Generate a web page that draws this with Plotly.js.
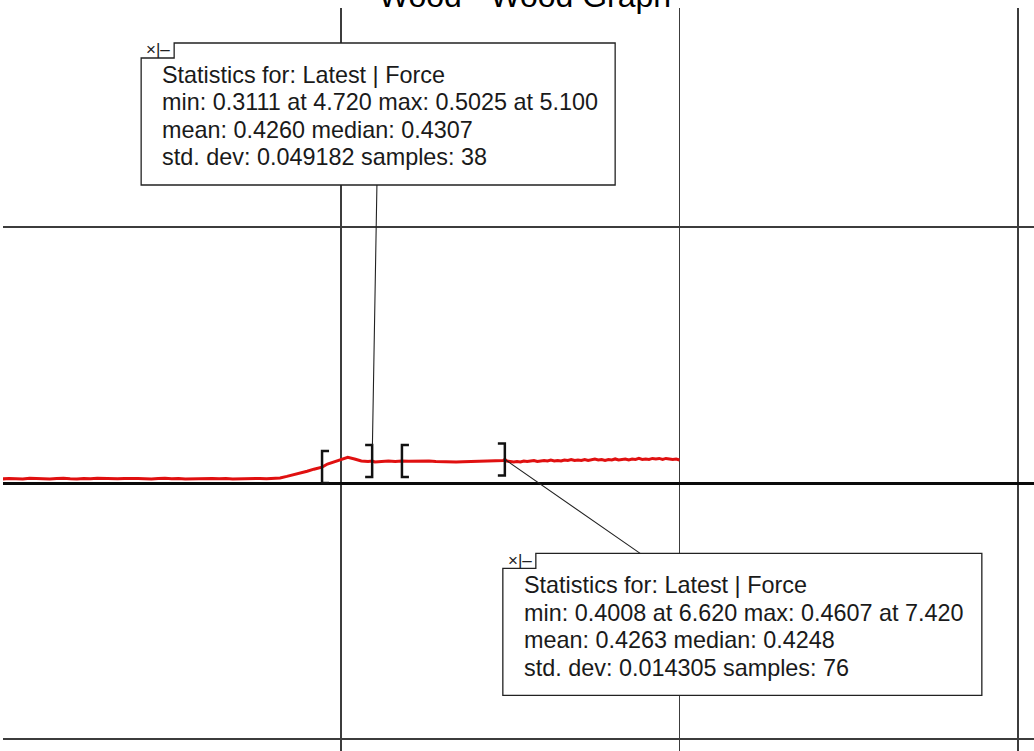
<!DOCTYPE html>
<html>
<head>
<meta charset="utf-8">
<script src="https://cdn.plot.ly/plotly-3.0.1.min.js"></script>
<style>
  html, body { margin: 0; padding: 0; background: #ffffff; }
  #chart { width: 1034px; height: 751px; }
</style>
</head>
<body>
<div id="chart"></div>
<script>
// Force trace, seconds vs. force
const time = [
  0.0, 0.1, 0.2, 0.3, 0.4, 0.5, 0.6, 0.7, 0.8, 0.9,
  1.0, 1.1, 1.2, 1.3, 1.4, 1.5, 1.6, 1.7, 1.8, 1.9,
  2.0, 2.1, 2.2, 2.3, 2.4, 2.5, 2.6, 2.7, 2.8, 2.9,
  3.0, 3.1, 3.2, 3.3, 3.4, 3.5, 3.6, 3.7, 3.8, 3.9,
  4.0, 4.1, 4.2, 4.3, 4.4, 4.5, 4.6, 4.7, 4.72, 4.8,
  4.9, 5.0, 5.1, 5.2, 5.3, 5.4, 5.46, 5.5, 5.6, 5.7,
  5.8, 5.9, 6.0, 6.1, 6.2, 6.3, 6.4, 6.5, 6.6, 6.62,
  6.7, 6.8, 6.9, 7.0, 7.1, 7.2, 7.3, 7.4, 7.42,
  7.45, 7.5, 7.55, 7.6, 7.65, 7.7, 7.75, 7.8, 7.85, 7.9,
  7.95, 8.0, 8.05, 8.1, 8.15, 8.2, 8.25, 8.3, 8.35, 8.4,
  8.45, 8.5, 8.55, 8.6, 8.65, 8.7, 8.75, 8.8, 8.85, 8.9,
  8.95, 9.0, 9.05, 9.1, 9.15, 9.2, 9.25, 9.3, 9.35, 9.4,
  9.45, 9.5, 9.55, 9.6, 9.65, 9.7, 9.75, 9.8, 9.85, 9.9,
  9.95, 10.0
];

const force = [
  0.08, 0.09, 0.085, 0.08, 0.095, 0.09, 0.085, 0.08, 0.09, 0.095,
  0.085, 0.08, 0.09, 0.085, 0.095, 0.09, 0.08, 0.085, 0.09, 0.095,
  0.09, 0.085, 0.08, 0.09, 0.095, 0.085, 0.09, 0.08, 0.085, 0.09,
  0.095, 0.09, 0.085, 0.09, 0.08, 0.085, 0.09, 0.095, 0.09, 0.085,
  0.09, 0.10, 0.13, 0.16, 0.20, 0.23, 0.27, 0.305, 0.3111, 0.37,
  0.41, 0.46, 0.5025, 0.47, 0.43, 0.42, 0.43, 0.41, 0.42, 0.43,
  0.42, 0.43, 0.425, 0.43, 0.435, 0.43, 0.42, 0.415, 0.41, 0.4008,
  0.41, 0.415, 0.42, 0.42, 0.425, 0.43, 0.435, 0.44, 0.4607,
  0.43, 0.42, 0.41, 0.42, 0.41, 0.43, 0.42, 0.43, 0.44, 0.42,
  0.43, 0.44, 0.43, 0.45, 0.43, 0.44, 0.43, 0.45, 0.44, 0.46,
  0.44, 0.45, 0.44, 0.46, 0.44, 0.45, 0.47, 0.45, 0.46, 0.44,
  0.46, 0.45, 0.47, 0.45, 0.46, 0.47, 0.45, 0.47, 0.46, 0.48,
  0.46, 0.47, 0.46, 0.48, 0.47, 0.48, 0.46, 0.48, 0.47, 0.46,
  0.47, 0.45
];

// Selected statistics windows (start / end time)
const regionStart = [4.72, 5.90];
const regionEnd = [5.46, 7.42];

const statsLatest1 = [
  "Statistics for: Latest | Force",
  "min: 0.3111 at 4.720 max: 0.5025 at 5.100",
  "mean: 0.4260 median: 0.4307",
  "std. dev: 0.049182 samples: 38"
];
const statsLatest2 = [
  "Statistics for: Latest | Force",
  "min: 0.4008 at 6.620 max: 0.4607 at 7.420",
  "mean: 0.4263 median: 0.4248",
  "std. dev: 0.014305 samples: 76"
];

const gridTimes = [5, 10, 15];
const gridForces = [-5, 5];

function forceAt(t) {
  return force[time.indexOf(t)];
}

const FONT = "Liberation Sans, Arial, sans-serif";
const shapes = [];
const annotations = [];

// Bracket marks at each window edge, sized in pixels around the data point
function bracket(t, open) {
  const s = open ? 7 : -7;
  shapes.push({
    type: "path", layer: "above",
    xref: "x", yref: "y",
    xsizemode: "pixel", ysizemode: "pixel",
    xanchor: t, yanchor: forceAt(t),
    path: `M ${s},16 L 0,16 L 0,-16 L ${s},-16`,
    line: { color: "#111111", width: 2.5 }
  });
}
for (let i = 0; i < regionStart.length; i++) {
  bracket(regionStart[i], true);
  bracket(regionEnd[i], false);
}

// Statistics callout: outlined box with a close/minimise tab, leader line to the window end
function callout(t, lines, box, standoff) {
  const y = forceAt(t);
  const L = box.left, R = box.right, T = box.top, B = box.bottom;
  const tabX = L + 33, tabY = T - 15;
  shapes.push({
    type: "path", layer: "above",
    xref: "x", yref: "y",
    xsizemode: "pixel", ysizemode: "pixel",
    xanchor: t, yanchor: y,
    path: `M ${L},${B} L ${L},${tabY} L ${tabX},${tabY} L ${tabX},${T} L ${R},${T} L ${R},${B} Z`,
    fillcolor: "#ffffff",
    line: { color: "#222222", width: 1.3 }
  });
  // leader line from the box centre, clipped at the box edge
  annotations.push({
    x: t, y: y, xref: "x", yref: "y",
    text: " ", showarrow: true, arrowhead: 0,
    arrowwidth: 1.1, arrowcolor: "#222222",
    standoff: standoff,
    ax: (L + R) / 2, ay: -(T + B) / 2,
    width: R - L, height: T - B, borderpad: 0, borderwidth: 0,
    bgcolor: "rgba(0,0,0,0)"
  });
  annotations.push({
    x: t, y: y, xref: "x", yref: "y",
    text: "×|–", showarrow: false,
    xanchor: "center", yanchor: "middle",
    xshift: L + 17, yshift: T - 7,
    font: { family: FONT, size: 17, color: "#222222" }
  });
  lines.forEach((txt, k) => {
    annotations.push({
      x: t, y: y, xref: "x", yref: "y",
      text: txt, showarrow: false,
      xanchor: "left", yanchor: "middle",
      xshift: L + 19, yshift: T - 32 - 27.5 * k,
      font: { family: FONT, size: 23.4, color: "#1a1a1a" }
    });
  });
}

callout(regionEnd[0], statsLatest1, { left: -231, right: 243, top: 418, bottom: 276 }, 16);
callout(regionEnd[1], statsLatest2, { left: -2, right: 477, top: -94, bottom: -236 }, 0);

const trace = {
  x: time, y: force,
  type: "scatter", mode: "lines",
  line: { color: "#e01010", width: 3 },
  hoverinfo: "skip"
};

const layout = {
  width: 1034, height: 751,
  margin: { l: 3, r: 0, t: 8, b: 0 },
  paper_bgcolor: "#ffffff", plot_bgcolor: "#ffffff",
  showlegend: false,
  title: {
    text: "Wood - Wood Graph",
    x: 0.5077, xref: "container", xanchor: "center",
    y: 0.9907, yref: "container", yanchor: "bottom",
    font: { family: FONT, size: 32, color: "#000000" }
  },
  xaxis: {
    range: [0.0074, 15.236],
    tickmode: "array", tickvals: gridTimes,
    showticklabels: false, ticks: "",
    showgrid: true, gridcolor: "#3c3c3c", gridwidth: 1.6,
    zeroline: false, showline: false
  },
  yaxis: {
    range: [-5.234, 9.277],
    tickmode: "array", tickvals: gridForces,
    showticklabels: false, ticks: "",
    showgrid: true, gridcolor: "#3c3c3c", gridwidth: 1.6,
    zeroline: true, zerolinecolor: "#0a0a0a", zerolinewidth: 3,
    showline: false
  },
  shapes: shapes,
  annotations: annotations
};

Plotly.newPlot("chart", [trace], layout, { staticPlot: true, displayModeBar: false });
</script>
</body>
</html>
